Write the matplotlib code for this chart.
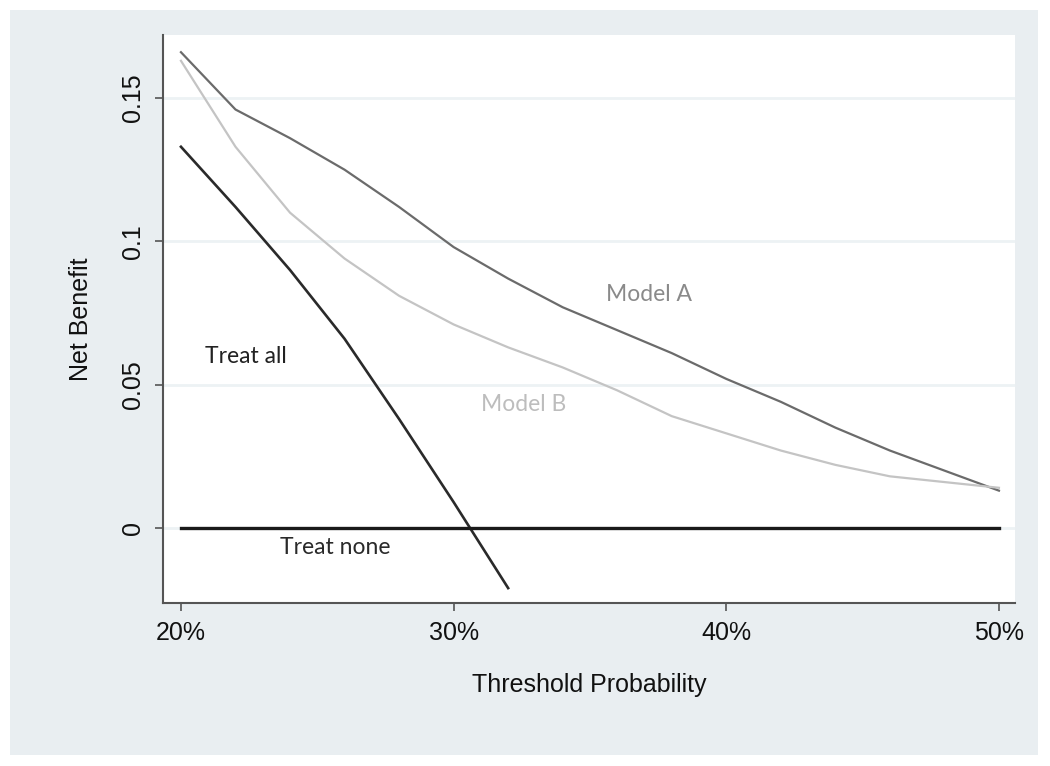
import matplotlib.pyplot as plt
from matplotlib.patches import Rectangle

# threshold probability (fraction) and net benefit
thr = [0.20, 0.22, 0.24, 0.26, 0.28, 0.30, 0.32, 0.34, 0.36, 0.38, 0.40,
       0.42, 0.44, 0.46, 0.48, 0.50]
model_a = [0.166, 0.146, 0.136, 0.125, 0.112, 0.098, 0.087, 0.077, 0.069,
           0.061, 0.052, 0.044, 0.035, 0.027, 0.020, 0.013]
model_b = [0.163, 0.133, 0.110, 0.094, 0.081, 0.071, 0.063, 0.056, 0.048,
           0.039, 0.033, 0.027, 0.022, 0.018, 0.016, 0.014]
thr_all = [0.20, 0.22, 0.24, 0.26, 0.28, 0.30, 0.32]
treat_all = [0.133, 0.112, 0.090, 0.066, 0.038, 0.009, -0.021]
thr_none = [0.20, 0.50]
treat_none = [0.0, 0.0]

xticks = [0.2, 0.3, 0.4, 0.5]
xtick_labels = ['20%', '30%', '40%', '50%']
yticks = [0, 0.05, 0.1, 0.15]
ytick_labels = ['0', '0.05', '0.1', '0.15']

plt.rcParams['font.family'] = ['Liberation Sans', 'DejaVu Sans']

fig = plt.figure(figsize=(10.5, 7.66), dpi=100)
fig.patch.set_facecolor('white')
bg = Rectangle((0.0095, 0.0144), 0.979, 0.9726, transform=fig.transFigure,
               facecolor='#e9eef1', edgecolor='none', zorder=-10)
fig.add_artist(bg)

ax = fig.add_axes([0.1552, 0.2128, 0.8115, 0.7415])
ax.set_zorder(1)
ax.set_facecolor('white')

for y in yticks:
    ax.axhline(y, color='#edf2f4', lw=2, zorder=1)

ax.plot(thr, model_a, color='#6b6b6b', lw=1.6, zorder=3)
ax.plot(thr, model_b, color='#c4c4c4', lw=1.6, zorder=3)
ax.plot(thr_all, treat_all, color='#2a2a2a', lw=1.9, zorder=4)
ax.plot(thr_none, treat_none, color='#1a1a1a', lw=2.4, zorder=4)

tf = ['Lato', 'DejaVu Sans']
ax.text(0.2088, 0.0598, 'Treat all', color='#222222', fontsize=16.5, family=tf, va='center')
ax.text(0.3558, 0.0815, 'Model A', color='#8a8a8a', fontsize=16.5, family=tf, va='center')
ax.text(0.310, 0.0430, 'Model B', color='#bdbdbd', fontsize=16.5, family=tf, va='center')
ax.text(0.2363, -0.0070, 'Treat none', color='#2a2a2a', fontsize=16.5, family=tf, va='center')

ax.set_xlim(0.1934, 0.5059)
ax.set_ylim(-0.0262, 0.172)
ax.set_xticks(xticks)
ax.set_xticklabels(xtick_labels, fontsize=18, color='#111111')
ax.set_yticks(yticks)
ax.set_yticklabels(ytick_labels, fontsize=18, color='#111111', rotation=90, va='center')
ax.tick_params(axis='both', direction='out', length=6, width=1.2, color='#555555', pad=7)

for s in ['top', 'right']:
    ax.spines[s].set_visible(False)
for s in ['left', 'bottom']:
    ax.spines[s].set_color('#555555')
    ax.spines[s].set_linewidth(1.5)

ax.set_xlabel('Threshold Probability', fontsize=18, color='#111111', labelpad=20)
ax.set_ylabel('Net Benefit', fontsize=18, color='#111111', labelpad=20)

fig.savefig('out.png', dpi=100)
